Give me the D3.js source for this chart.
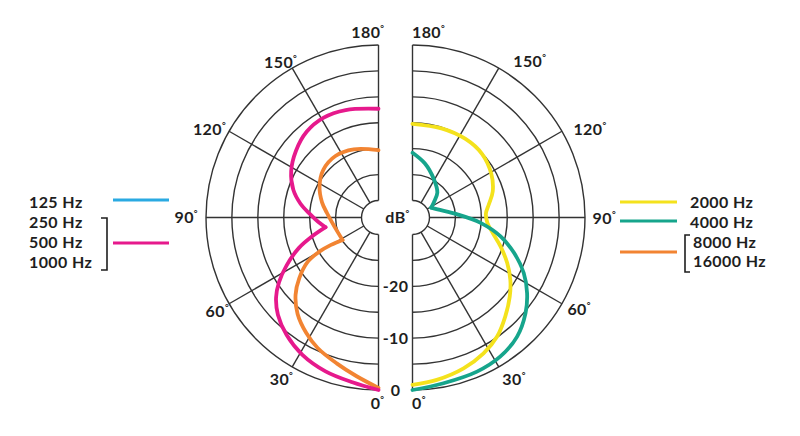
<!DOCTYPE html>
<html><head><meta charset="utf-8">
<script src="https://cdn.jsdelivr.net/npm/d3@7"></script>
<style>html,body{margin:0;padding:0;background:#fff}svg{display:block}</style>
</head><body>
<svg id="chart" width="800" height="436"></svg>
<script>
// ---------- DATA ----------
const ringDb = [0, -5, -10, -15, -20, -25, -30];
const spokeAngles = [0, 30, 60, 90, 120, 150, 180];
const angleTickLabels = ["0", "30", "60", "90", "120", "150", "180"];
const dbTickValues = [0, -10, -20];
const dbTickLabels = ["0", "-10", "-20"];

// left half: 250/500/1000 Hz (magenta), two segments split at the notch
const magentaAnglesA = [0, 9, 19, 29, 38, 46, 52, 57, 62.5, 69, 74, 79.6];
const magentaDbA     = [0, -1.1, -1.9, -3.0, -4.5, -6.3, -8.2, -10.4, -13.3, -16.8, -19.9, -22.9];
const magentaAnglesB = [79.6, 86, 93, 100, 108, 118, 129, 140, 151, 163, 180];
const magentaDbB     = [-22.9, -21.6, -20.0, -18.0, -16.0, -14.2, -12.8, -11.7, -11.3, -11.6, -12.3];

// left half: 8000/16000 Hz (orange)
const orangeAnglesA = [0, 8, 16, 25, 32, 40, 47, 52.5, 58, 60, 60, 58];
const orangeDbA     = [-0.4, -2.4, -4.0, -5.5, -7.0, -9.0, -11.4, -14.0, -17.2, -20.1, -22.7, -25.1];
const orangeAnglesB = [58, 71, 85, 95, 105, 118, 131, 145, 160, 180];
const orangeDbB     = [-25.1, -24.9, -24.2, -23.3, -22.0, -20.4, -19.2, -18.8, -19.3, -20.3];

// right half: 2000 Hz (yellow)
const yellowAngles = [0, 8.5, 18.7, 27.6, 35.4, 43.1, 50.9, 57.5, 64.3, 71.8, 79, 86, 93, 100, 108, 119, 132.5, 146, 162, 180];
const yellowDb     = [-1.0, -1.6, -2.55, -3.7, -5.1, -7.1, -9.1, -10.9, -13.0, -15.4, -17.5, -18.8, -19.1, -18.3, -17.0, -15.9, -15.1, -15.0, -15.2, -15.2];

// right half: 4000 Hz (teal)
const tealAnglesA = [0, 10.6, 22.7, 32.2, 41.3, 49.7, 56.6, 63.5, 70.7, 77.9, 85.5, 94, 108, 118];
const tealDbA     = [0, -0.75, -1.05, -1.55, -2.7, -4.7, -6.8, -9.3, -12.5, -15.9, -20.1, -24.6, -28.2, -29.2];
const tealAnglesB = [118, 125.6, 135, 151, 167, 180];
const tealDbB     = [-29.2, -28.2, -26.5, -24.8, -22.6, -20.8];

const leftLegend  = ["125 Hz", "250 Hz", "500 Hz", "1000 Hz"];
const rightLegend = ["2000 Hz", "4000 Hz", "8000 Hz", "16000 Hz"];

// ---------- LAYOUT / STYLE ----------
const C = {
  magenta: "#e6198c", orange: "#f28432", yellow: "#f4e21c", teal: "#16a58c", blue: "#2aaae2",
  grid: "#333333", text: "#1e1e1e"
};
const cy = 217.5, cxL = 378.5, cxR = 412.5;
const r = d3.scaleLinear().domain([-30, 0]).range([17, 172.5]);
const font = "Lato, 'DejaVu Sans', sans-serif";

const svg = d3.select("#chart");
const gL = svg.append("g").attr("transform", `translate(${cxL},${cy})`);
const gR = svg.append("g").attr("transform", `translate(${cxR},${cy})`);
const rad = d => d * Math.PI / 180;

// grid rings
function drawGrid(g, side) {
  ringDb.forEach(db => {
    const p = d3.path();
    p.arc(0, 0, r(db), -Math.PI / 2, Math.PI / 2, side === "L");
    g.append("path").attr("d", p.toString()).attr("fill", "none")
      .attr("stroke", C.grid).attr("stroke-width", 1.4);
  });
  spokeAngles.forEach(a => {
    const s = side === "L" ? -1 : 1;
    g.append("line")
      .attr("x1", s * r(-30) * Math.sin(rad(a))).attr("y1", r(-30) * Math.cos(rad(a)))
      .attr("x2", s * r(0) * Math.sin(rad(a))).attr("y2", r(0) * Math.cos(rad(a)))
      .attr("stroke", C.grid).attr("stroke-width", 1.4);
  });
}
drawGrid(gL, "L");
drawGrid(gR, "R");

// curves
function curve(g, side, angles, dbs, color) {
  const line = d3.lineRadial()
    .angle(d => side === "L" ? Math.PI + rad(d[0]) : Math.PI - rad(d[0]))
    .radius(d => r(d[1]))
    .curve(d3.curveCatmullRom.alpha(0.5));
  g.append("path").datum(angles.map((a, i) => [a, dbs[i]]))
    .attr("d", line).attr("fill", "none").attr("stroke", color)
    .attr("stroke-width", 3.8).attr("stroke-linecap", "round").attr("stroke-linejoin", "round");
}
curve(gL, "L", orangeAnglesA, orangeDbA, C.orange);
curve(gL, "L", orangeAnglesB, orangeDbB, C.orange);
curve(gL, "L", magentaAnglesA, magentaDbA, C.magenta);
curve(gL, "L", magentaAnglesB, magentaDbB, C.magenta);
curve(gR, "R", yellowAngles, yellowDb, C.yellow);
curve(gR, "R", tealAnglesA, tealDbA, C.teal);
curve(gR, "R", tealAnglesB, tealDbB, C.teal);

// text helper
function label(x, y, anchor, txt, deg) {
  const t = svg.append("text").attr("x", x).attr("y", y).attr("text-anchor", anchor)
    .attr("font-family", font).attr("font-weight", 700).attr("font-size", 16)
    .attr("letter-spacing", 0.4).attr("fill", C.text);
  t.append("tspan").text(txt);
  if (deg) t.append("tspan").attr("font-size", 9).attr("dy", -6).text("°");
  return t;
}

// angle labels (offsets from the spoke end: [dx, dyCenter])
const offL = {0: [6, 13], 30: [1, 13], 60: [0, 8], 90: [-8, 0], 120: [-3, -2], 150: [5, -6], 180: [6, -13]};
const offR = {0: [-0.5, 13], 30: [3.5, 13], 60: [5.5, 6], 90: [7.5, 1], 120: [11.5, -2], 150: [14.5, -7], 180: [-0.5, -13]};
spokeAngles.forEach((a, i) => {
  const px = r(0) * Math.sin(rad(a)), py = cy + r(0) * Math.cos(rad(a));
  label(cxL - px + offL[a][0], py + offL[a][1] + 5.5, "end", angleTickLabels[i], true);
  label(cxR + px + offR[a][0], py + offR[a][1] + 5.5, "start", angleTickLabels[i], true);
});

// dB labels in the gap
const cxM = (cxL + cxR) / 2;
dbTickValues.forEach((v, i) => {
  label(cxM, cy + r(v) + 6, "middle", dbTickLabels[i], false);
});
label(cxM + 2, cy + 5.5, "middle", "dB", true);

// left legend
const lx = 29;
[202, 222, 242, 262].forEach((y, i) => label(lx, y + 5.5, "start", leftLegend[i], false));
svg.append("line").attr("x1", 113).attr("x2", 169).attr("y1", 200).attr("y2", 200)
  .attr("stroke", C.blue).attr("stroke-width", 3);
svg.append("line").attr("x1", 113).attr("x2", 169).attr("y1", 243).attr("y2", 243)
  .attr("stroke", C.magenta).attr("stroke-width", 3);
svg.append("path").attr("d", "M101,218H107V270H101").attr("fill", "none")
  .attr("stroke", C.text).attr("stroke-width", 1.6);

// right legend
[202, 222].forEach((y, i) => label(690, y + 5.5, "start", rightLegend[i], false));
[242, 261].forEach((y, i) => label(693, y + 5.5, "start", rightLegend[i + 2], false));
svg.append("line").attr("x1", 620).attr("x2", 677).attr("y1", 202).attr("y2", 202)
  .attr("stroke", C.yellow).attr("stroke-width", 3);
svg.append("line").attr("x1", 620).attr("x2", 677).attr("y1", 221).attr("y2", 221)
  .attr("stroke", C.teal).attr("stroke-width", 3);
svg.append("line").attr("x1", 620).attr("x2", 677).attr("y1", 252).attr("y2", 252)
  .attr("stroke", C.orange).attr("stroke-width", 3);
svg.append("path").attr("d", "M690,235H685V272H690").attr("fill", "none")
  .attr("stroke", C.text).attr("stroke-width", 1.6);
</script>
</body></html>
